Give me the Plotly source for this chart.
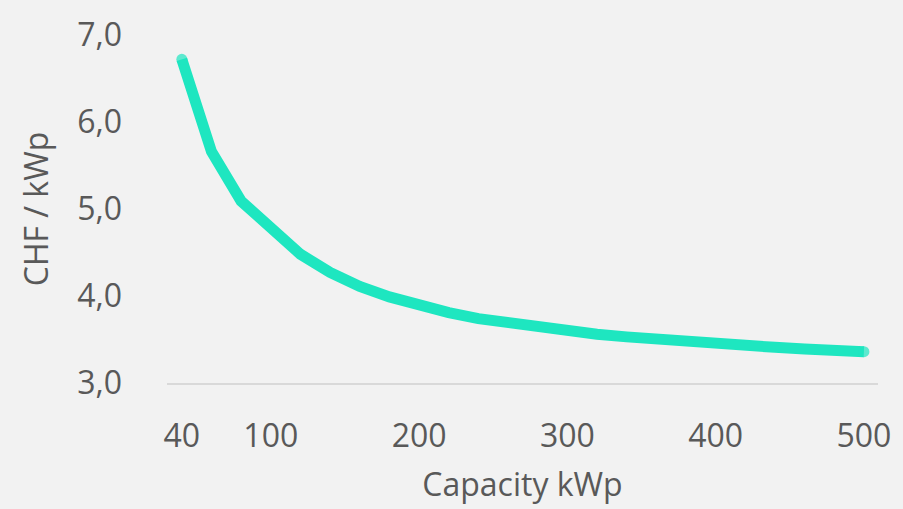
import plotly.graph_objects as go

capacity_kwp = [40, 60, 80, 100, 120, 140, 160, 180, 200, 220, 240, 260,
                280, 300, 320, 340, 360, 380, 400, 420, 440, 460, 480, 500]
chf_per_kwp = [6.72, 5.66, 5.09, 4.78, 4.48, 4.27, 4.11, 3.99, 3.89, 3.81,
               3.74, 3.69, 3.64, 3.60, 3.56, 3.53, 3.50, 3.47, 3.45, 3.43,
               3.41, 3.39, 3.375, 3.36]
x_ticks = [40, 100, 200, 300, 400, 500]
y_ticks = [3, 4, 5, 6, 7]

line_color = "#1ee6c0"
font_color = "#595959"
bg = "#f2f2f2"
font_family = "Open Sans"

n = len(capacity_kwp)
end_sizes = [11 if i in (0, n - 1) else 0 for i in range(n)]

fig = go.Figure()
fig.add_trace(go.Scatter(
    x=capacity_kwp, y=chf_per_kwp, mode="lines+markers",
    line=dict(color=line_color, width=11),
    marker=dict(color=line_color, size=end_sizes, line=dict(width=0)),
    hoverinfo="x+y", showlegend=False,
))

fig.update_layout(
    width=903, height=509,
    paper_bgcolor=bg, plot_bgcolor=bg,
    separators=",.",
    margin=dict(l=167, r=22, t=25, b=125),
    font=dict(family=font_family, size=32, color=font_color),
    xaxis=dict(
        range=[30, 509.5], tickvals=x_ticks, ticktext=[str(v) for v in x_ticks],
        showgrid=False, zeroline=False,
        showline=True, linecolor="#d9d9d9", linewidth=2,
        ticks="", ticklabelstandoff=24,
        title=dict(text="Capacity kWp", standoff=18, font=dict(size=32)),
    ),
    yaxis=dict(
        range=[3, 7], tickvals=y_ticks, tickformat=".1f",
        showgrid=False, zeroline=False, showline=False,
        ticks="", ticklabelstandoff=44,
        title=dict(text="CHF / kWp", standoff=18, font=dict(size=32)),
    ),
)

fig.write_html(
    "out.html",
    config={"displayModeBar": False},
    post_script="document.body.style.margin='0';document.body.style.overflow='hidden';",
)
